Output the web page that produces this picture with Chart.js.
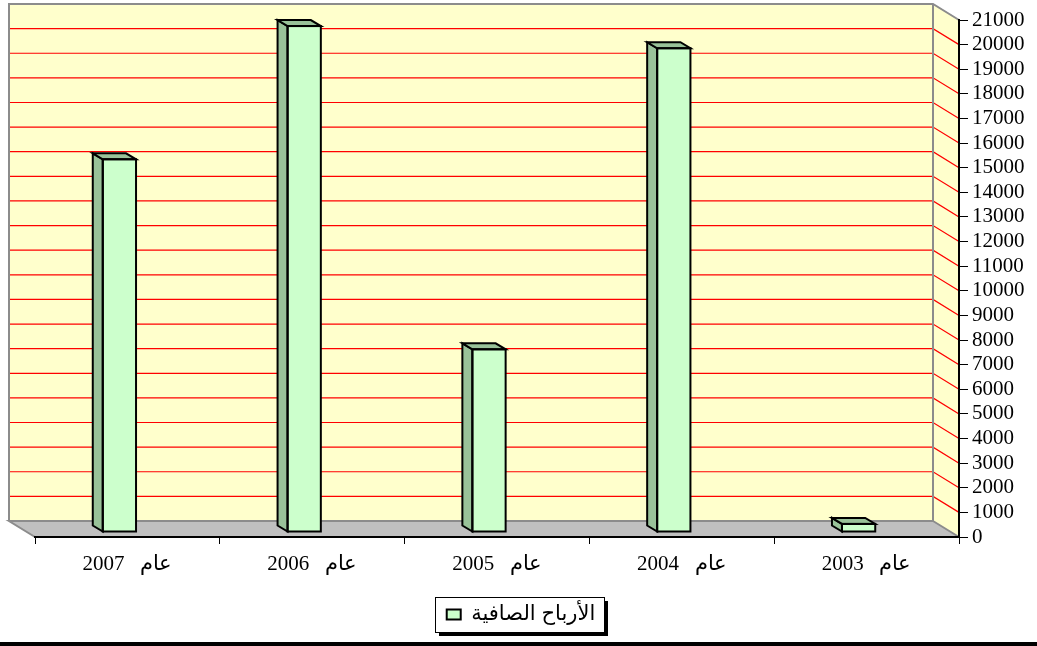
<!DOCTYPE html>
<html>
<head>
<meta charset="utf-8">
<script src="https://cdn.jsdelivr.net/npm/chart.js@4.4.1/dist/chart.umd.min.js"></script>
<style>
  html, body { margin: 0; padding: 0; background: #fff; }
  #wrap { width: 1037px; height: 642px; border-bottom: 4px solid #000; }
</style>
</head>
<body>
<div id="wrap"><canvas id="chart" width="1037" height="642"></canvas></div>
<script>
// بيانات الرسم (من اليسار إلى اليمين كما في الصورة)
const categories = ['عام   2007', 'عام   2006', 'عام   2005', 'عام   2004', 'عام   2003'];
const netProfits = [15140, 20550, 7420, 19650, 330];
const seriesLabel = 'الأرباح الصافية';
const yMin = 0;
const yMax = 21000;
const yStep = 1000;

// إزاحة العمق (شكل ثلاثي الأبعاد)
const WALL_DX = -26, WALL_DY = -16;   // الجدار الخلفي
const BAR_DX = -8, BAR_DY = -5;       // موضع الأعمدة داخل العمق
const FACE_DX = -10, FACE_DY = -6;    // سماكة العمود
const LEGEND_SHIFT = -15;             // وسيلة الإيضاح قليلاً إلى اليسار

const serif = '"Liberation Serif", "Times New Roman", "DejaVu Serif", serif';

// الجدران والأرضية وخطوط الشبكة وإطار وسيلة الإيضاح
const wallPlugin = {
  id: 'walls',
  afterLayout(chart) {
    if (chart.legend) {
      chart.legend.left += LEGEND_SHIFT;
      chart.legend.right += LEGEND_SHIFT;
    }
  },
  beforeDraw(chart) {
    const ctx = chart.ctx;
    const a = chart.chartArea;
    const y = chart.scales.y;
    ctx.save();

    ctx.fillStyle = '#ffffcc';
    ctx.fillRect(a.left + WALL_DX, a.top + WALL_DY, a.right - a.left, a.bottom - a.top);
    ctx.beginPath();
    ctx.moveTo(a.right + WALL_DX, a.top + WALL_DY);
    ctx.lineTo(a.right, a.top);
    ctx.lineTo(a.right, a.bottom);
    ctx.lineTo(a.right + WALL_DX, a.bottom + WALL_DY);
    ctx.closePath();
    ctx.fill();

    // الأرضية
    ctx.fillStyle = '#c0c0c0';
    ctx.beginPath();
    ctx.moveTo(a.left + WALL_DX, a.bottom + WALL_DY);
    ctx.lineTo(a.right + WALL_DX, a.bottom + WALL_DY);
    ctx.lineTo(a.right, a.bottom);
    ctx.lineTo(a.left, a.bottom);
    ctx.closePath();
    ctx.fill();

    // خطوط الشبكة الحمراء
    ctx.strokeStyle = '#ff0000';
    ctx.lineWidth = 1.2;
    y.ticks.forEach(t => {
      if (t.value === yMin || t.value === yMax) return;
      const py = y.getPixelForValue(t.value);
      ctx.beginPath();
      ctx.moveTo(a.left + WALL_DX, py + WALL_DY);
      ctx.lineTo(a.right + WALL_DX, py + WALL_DY);
      ctx.lineTo(a.right, py);
      ctx.stroke();
    });

    // حواف الجدران
    ctx.strokeStyle = '#8c8c8c';
    ctx.lineWidth = 2;
    ctx.beginPath();
    ctx.moveTo(a.left + WALL_DX, a.bottom + WALL_DY);
    ctx.lineTo(a.left + WALL_DX, a.top + WALL_DY);
    ctx.lineTo(a.right + WALL_DX, a.top + WALL_DY);
    ctx.lineTo(a.right, a.top);
    ctx.moveTo(a.right + WALL_DX, a.top + WALL_DY);
    ctx.lineTo(a.right + WALL_DX, a.bottom + WALL_DY);
    ctx.lineTo(a.left + WALL_DX, a.bottom + WALL_DY);
    ctx.lineTo(a.left, a.bottom);
    ctx.moveTo(a.right + WALL_DX, a.bottom + WALL_DY);
    ctx.lineTo(a.right, a.bottom);
    ctx.stroke();

    // إطار وسيلة الإيضاح مع ظل
    const hb = chart.legend && chart.legend.legendHitBoxes[0];
    if (hb) {
      const cy = hb.top + hb.height / 2;
      const fx = Math.round(hb.left - 12), fy = Math.round(cy - 18);
      const fw = Math.round(hb.width + 20), fh = 35;
      ctx.fillStyle = '#000';
      ctx.fillRect(fx + 4, fy + 4, fw, fh);
      ctx.fillStyle = '#fff';
      ctx.fillRect(fx, fy, fw, fh);
      ctx.strokeStyle = '#000';
      ctx.lineWidth = 1;
      ctx.strokeRect(fx + 0.5, fy + 0.5, fw, fh);
    }
    ctx.restore();
  }
};

// الوجه الجانبي والعلوي للأعمدة
const barDepthPlugin = {
  id: 'barDepth',
  beforeDatasetsDraw(chart) {
    chart.ctx.save();
    chart.ctx.translate(BAR_DX, BAR_DY);
  },
  afterDatasetsDraw(chart) {
    const ctx = chart.ctx;
    chart.getDatasetMeta(0).data.forEach(bar => {
      const { x, y, base, width } = bar.getProps(['x', 'y', 'base', 'width'], true);
      const l = x - width / 2, r = x + width / 2;
      ctx.fillStyle = '#99c299';
      ctx.strokeStyle = '#000';
      ctx.lineWidth = 2;
      ctx.lineJoin = 'miter';
      ctx.beginPath();
      ctx.moveTo(l, y);
      ctx.lineTo(l + FACE_DX, y + FACE_DY);
      ctx.lineTo(l + FACE_DX, base + FACE_DY);
      ctx.lineTo(l, base);
      ctx.closePath();
      ctx.fill();
      ctx.stroke();
      ctx.beginPath();
      ctx.moveTo(l, y);
      ctx.lineTo(r, y);
      ctx.lineTo(r + FACE_DX, y + FACE_DY);
      ctx.lineTo(l + FACE_DX, y + FACE_DY);
      ctx.closePath();
      ctx.fill();
      ctx.stroke();
      ctx.strokeRect(l, y, r - l, base - y);
    });
    ctx.restore();
  }
};

new Chart(document.getElementById('chart'), {
  type: 'bar',
  data: {
    labels: categories,
    datasets: [{
      label: seriesLabel,
      data: netProfits,
      backgroundColor: '#ccffcc',
      borderColor: '#000',
      borderWidth: 0,
      categoryPercentage: 1,
      barPercentage: 0.18,
      clip: false
    }]
  },
  options: {
    responsive: false,
    animation: false,
    events: [],
    layout: { padding: { left: 35, top: 20, right: 0, bottom: 7 } },
    scales: {
      x: {
        grid: { drawOnChartArea: false, drawTicks: true, tickLength: 7, color: '#000', offset: true },
        border: { display: true, color: '#000', width: 2 },
        ticks: { color: '#000', font: { family: serif, size: 21 }, padding: 8, maxRotation: 0 },
        afterFit(scale) { scale.height = 57; }
      },
      y: {
        position: 'right',
        min: yMin,
        max: yMax,
        grid: { drawOnChartArea: false, drawTicks: true, tickLength: 9, color: '#000' },
        border: { display: true, color: '#000', width: 2 },
        ticks: {
          stepSize: yStep,
          autoSkip: false,
          color: '#000',
          font: { family: serif, size: 21 },
          padding: 4,
          callback: v => String(v)
        },
        afterFit(scale) { scale.width = 78; }
      }
    },
    plugins: {
      legend: {
        position: 'bottom',
        labels: {
          boxWidth: 14,
          boxHeight: 10,
          padding: 10,
          color: '#000',
          font: { family: '"Liberation Sans", Arial, "DejaVu Sans", sans-serif', size: 21 },
          generateLabels: chart => [{
            text: seriesLabel,
            fillStyle: '#ccffcc',
            strokeStyle: '#000',
            lineWidth: 2,
            datasetIndex: 0
          }]
        }
      },
      tooltip: { enabled: false }
    }
  },
  plugins: [wallPlugin, barDepthPlugin]
});
</script>
</body>
</html>
